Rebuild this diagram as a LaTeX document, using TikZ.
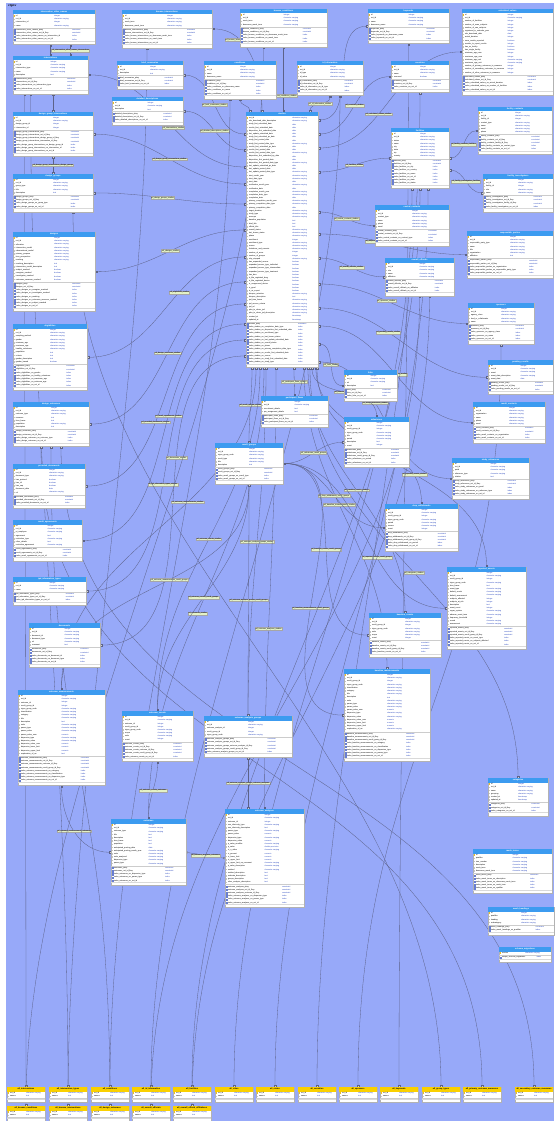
\documentclass[tikz,border=0pt]{standalone}
\usepackage{fontspec}
\setmainfont{Liberation Sans}
\usetikzlibrary{calc, arrows.meta, shadows}
\definecolor{grundblau}{RGB}{151,169,249}
\definecolor{kopfblau}{RGB}{60,155,240}
\definecolor{kopfgelb}{RGB}{250,208,0}
\definecolor{typblau}{RGB}{40,70,190}
\definecolor{liniengrau}{RGB}{92,98,136}
\definecolor{etikett}{RGB}{228,242,198}
\definecolor{schluessel}{RGB}{235,190,40}
\pgfdeclarelayer{grund}
\pgfdeclarelayer{linien}
\pgfdeclarelayer{kasten}
\pgfsetlayers{grund,linien,kasten,main}

\newcount\nsp
\newcount\nix
\def\typx{0.5}
% Tabelle: [Kopfstil] Name, x, y, Breite, Spalten, Indizes
\newcommand{\ertab}[7][blaukopf]{%
  \node[kopf, #1, minimum width=#5pt] (#2-k) at (#3,#4) {#2};
  \global\nsp=0\relax \global\nix=0\relax
  \foreach \sn/\st [count=\i] in {#6} {
    \global\nsp=\i\relax
    \pgfmathsetmacro\yy{#4+4.5+(\i-0.5)*3.2}
    \ifnum\i=1 \def\ic{schluessel}\else\def\ic{gray!45}\fi
    \fill[\ic] ({#3+0.8},{\yy-0.7}) rectangle ++(1.4,1.4);
    \node[zeile] (#2-s\i) at ({#3+2.8},\yy) {\sn};
    \node[typ] (#2-t\i) at ({#3+\typx*#5},\yy) {\st};
  }
  \if\relax\detokenize{#7}\relax\else
  \foreach \sn/\st [count=\i] in {#7} {
    \global\nix=\i\relax
    \pgfmathsetmacro\yy{#4+4.5+1+(\the\nsp+\i-0.5)*3.2}
    \draw[indexicon] ({#3+0.8},{\yy-0.7}) rectangle ++(1.4,1.4);
    \node[zeile] (#2-i\i) at ({#3+2.8},\yy) {\sn};
    \node[typ] (#2-j\i) at ({#3+0.72*#5},\yy) {\st};
  }\fi
  \pgfmathsetmacro\hh{9+(\the\nsp+\the\nix)*3.2}
  \begin{pgfonlayer}{kasten}
    \node[tab, minimum width=#5pt, minimum height=\hh pt] (#2) at (#3,#4) {};
  \end{pgfonlayer}
  \draw[gray!40, line width=0.2pt] ({#3},{#4+4.5+\the\nsp*3.2+0.5}) -- ++(#5,0);
  \draw[gray!30, line width=0.2pt] ({#3},{#4+\hh-3.5}) -- ++(#5,0);
}

\begin{document}
\catcode`\_=12
\begin{tikzpicture}[x=1pt, y=-1pt,
    kopf/.style={anchor=north west, inner sep=0pt, outer sep=0pt, minimum height=4.5pt,
      font=\bfseries\fontsize{2.1}{2.3}\selectfont},
    blaukopf/.style={fill=kopfblau, text=white},
    gelbkopf/.style={fill=kopfgelb, text=black},
    tab/.style={anchor=north west, draw=gray!60, line width=0.3pt, fill=white, inner sep=0pt, outer sep=0pt,
      drop shadow={shadow xshift=0.6pt, shadow yshift=-0.6pt, opacity=0.3}},
    zeile/.style={anchor=west, inner sep=0pt, font=\fontsize{1.9}{2.2}\selectfont},
    typ/.style={zeile, text=typblau},
    indexicon/.style={draw=typblau!70, line width=0.15pt},
    rel/.style={draw=liniengrau, line width=0.3pt,
      {Square[length=1.8pt,width=1.8pt,fill=gray!35]}-{Square[length=1.8pt,width=1.8pt,fill=gray!35]}},
    fklabel/.style={fill=etikett, draw=gray!70, line width=0.2pt, inner sep=0.5pt,
      font=\fontsize{1.9}{2.1}\selectfont}]
  \useasboundingbox (0,0) rectangle (554,1121);
  % Hintergrund
  \begin{pgfonlayer}{grund}
    \fill[white] (0,0) rectangle (554,1121);
    \fill[grundblau] (6,3) rectangle (554,1121);
  \end{pgfonlayer}
  \node[anchor=west, inner sep=0pt, font=\bfseries\itshape\fontsize{3}{3}\selectfont] (schema) at (8,6) {ctgov};

  % Tabellen oben
  \ertab{intervention_other_names}{13}{10}{82}{id/integer, nct_id/character varying, intervention_id/integer, name/character varying}
    {intervention_other_names_pkey/constraint, intervention_other_names_nct_id_fkey/constraint, index_intervention_other_names_on_intervention_id/index, index_intervention_other_names_on_nct_id/index}
  \ertab{browse_interventions}{122}{10}{90}{id/integer, nct_id/character varying, mesh_term/character varying, downcase_mesh_term/character varying}
    {browse_interventions_pkey/constraint, browse_interventions_nct_id_fkey/constraint, index_browse_interventions_on_downcase_mesh_term/index, index_browse_interventions_on_mesh_term/index, index_browse_interventions_on_nct_id/index}
  \ertab{browse_conditions}{240}{9}{87}{id/integer, nct_id/character varying, mesh_term/character varying, downcase_mesh_term/character varying}
    {browse_conditions_pkey/constraint, browse_conditions_nct_id_fkey/constraint, index_browse_conditions_on_downcase_mesh_term/index, index_browse_conditions_on_mesh_term/index, index_browse_conditions_on_nct_id/index}
  \ertab{keywords}{368}{9}{81}{id/integer, nct_id/character varying, name/character varying, downcase_name/character varying}
    {keywords_pkey/constraint, keywords_nct_id_fkey/constraint, index_keywords_on_downcase_name/index, index_keywords_on_nct_id/index}
  \ertab{calculated_values}{462}{9}{91}{id/integer, nct_id/character varying, number_of_facilities/integer, number_of_nsae_subjects/integer, number_of_sae_subjects/integer, registered_in_calendar_year/integer, nlm_download_date/date, actual_duration/integer, were_results_reported/boolean, months_to_report_results/integer, has_us_facility/boolean, has_single_facility/boolean, minimum_age_num/integer, maximum_age_num/integer, minimum_age_unit/character varying, maximum_age_unit/character varying, number_of_primary_outcomes_to_measure/integer, number_of_secondary_outcomes_to_measure/integer, number_of_other_outcomes_to_measure/integer}
    {calculated_values_pkey/constraint, calculated_values_nct_id_fkey/constraint, index_calculated_values_on_actual_duration/index, index_calculated_values_on_number_of_facilities/index, index_calculated_values_on_nct_id/index}
  \ertab{interventions}{13}{56}{75}{id/integer, nct_id/character varying, intervention_type/character varying, name/character varying, description/text}
    {interventions_pkey/constraint, interventions_nct_id_fkey/constraint, index_interventions_on_intervention_type/index, index_interventions_on_nct_id/index}
  \ertab{brief_summaries}{117}{61}{66}{id/integer, nct_id/character varying, description/text}
    {brief_summaries_pkey/constraint, brief_summaries_nct_id_fkey/constraint, index_brief_summaries_on_nct_id/index}
  \ertab{conditions}{204}{61}{72}{id/integer, nct_id/character varying, name/character varying, downcase_name/character varying}
    {conditions_pkey/constraint, conditions_nct_id_fkey/constraint, index_conditions_on_downcase_name/index, index_conditions_on_name/index, index_conditions_on_nct_id/index}
  \ertab{id_information}{297}{61}{66}{id/integer, nct_id/character varying, id_type/character varying, id_value/character varying}
    {id_information_pkey/constraint, id_information_nct_id_fkey/constraint, index_id_information_on_id_type/index, index_id_information_on_nct_id/index}
  \ertab{countries}{391}{61}{58}{id/integer, nct_id/character varying, name/character varying, removed/boolean}
    {countries_pkey/constraint, countries_nct_id_fkey/constraint, index_countries_on_nct_id/index}
  \ertab{detailed_descriptions}{112}{97}{71}{id/integer, nct_id/character varying, description/text}
    {detailed_descriptions_pkey/constraint, detailed_descriptions_nct_id_fkey/constraint, index_detailed_descriptions_on_nct_id/index}
  \ertab{design_group_interventions}{13}{112}{80}{id/integer, nct_id/character varying, design_group_id/integer, intervention_id/integer}
    {design_group_interventions_pkey/constraint, design_group_interventions_nct_id_fkey/constraint, design_group_interventions_design_group_id_fkey/constraint, design_group_interventions_intervention_id_fkey/constraint, index_design_group_interventions_on_design_group_id/index, index_design_group_interventions_on_intervention_id/index, index_design_group_interventions_on_nct_id/index}
  \ertab{facility_contacts}{478}{107}{74}{id/integer, nct_id/character varying, facility_id/integer, contact_type/character varying, name/character varying, email/character varying, phone/character varying}
    {facility_contacts_pkey/constraint, facility_contacts_nct_id_fkey/constraint, facility_contacts_facility_id_fkey/constraint, index_facility_contacts_on_contact_type/index, index_facility_contacts_on_nct_id/index}
  \ertab{facilities}{391}{128}{58}{id/integer, nct_id/character varying, status/character varying, name/character varying, city/character varying, state/character varying, zip/character varying, country/character varying}
    {facilities_pkey/constraint, facilities_nct_id_fkey/constraint, index_facilities_on_city/index, index_facilities_on_country/index, index_facilities_on_name/index, index_facilities_on_nct_id/index, index_facilities_on_state/index, index_facilities_on_status/index}

  % Haupttabelle
  \def\typx{0.64}
  \ertab{studies}{246}{112}{72}{nct_id/character varying, nlm_download_date_description/character varying, study_first_submitted_date/date, results_first_submitted_date/date, disposition_first_submitted_date/date, last_update_submitted_date/date, study_first_submitted_qc_date/date, study_first_posted_date/date, study_first_posted_date_type/character varying, results_first_submitted_qc_date/date, results_first_posted_date/date, results_first_posted_date_type/character varying, disposition_first_submitted_qc_date/date, disposition_first_posted_date/date, disposition_first_posted_date_type/character varying, last_update_submitted_qc_date/date, last_update_posted_date/date, last_update_posted_date_type/character varying, start_month_year/character varying, start_date_type/character varying, start_date/date, verification_month_year/character varying, verification_date/date, completion_month_year/character varying, completion_date_type/character varying, completion_date/date, primary_completion_month_year/character varying, primary_completion_date_type/character varying, primary_completion_date/date, target_duration/character varying, study_type/character varying, acronym/character varying, baseline_population/text, brief_title/text, official_title/text, overall_status/character varying, last_known_status/character varying, phase/character varying, enrollment/integer, enrollment_type/character varying, source/character varying, limitations_and_caveats/character varying, number_of_arms/integer, number_of_groups/integer, why_stopped/character varying, has_expanded_access/boolean, expanded_access_type_individual/boolean, expanded_access_type_intermediate/boolean, expanded_access_type_treatment/boolean, has_dmc/boolean, is_fda_regulated_drug/boolean, is_fda_regulated_device/boolean, is_unapproved_device/boolean, is_ppsd/boolean, is_us_export/boolean, biospec_retention/character varying, biospec_description/text, ipd_time_frame/character varying, ipd_access_criteria/character varying, ipd_url/character varying, plan_to_share_ipd/character varying, plan_to_share_ipd_description/character varying, created_at/timestamp, updated_at/timestamp}
    {studies_pkey/constraint, index_studies_on_completion_date_type/index, index_studies_on_disposition_first_submitted_date/index, index_studies_on_enrollment_type/index, index_studies_on_last_known_status/index, index_studies_on_last_update_submitted_date/index, index_studies_on_overall_status/index, index_studies_on_phase/index, index_studies_on_primary_completion_date_type/index, index_studies_on_results_first_submitted_date/index, index_studies_on_source/index, index_studies_on_study_first_submitted_date/index, index_studies_on_study_type/index}
  \def\typx{0.5}

  % Tabellen links
  \ertab{design_groups}{13}{174}{80}{id/integer, nct_id/character varying, group_type/character varying, title/character varying, description/text}
    {design_groups_pkey/constraint, design_groups_nct_id_fkey/constraint, index_design_groups_on_group_type/index, index_design_groups_on_nct_id/index}
  \ertab{designs}{13}{232}{82}{id/integer, nct_id/character varying, allocation/character varying, intervention_model/character varying, observational_model/character varying, primary_purpose/character varying, time_perspective/character varying, masking/character varying, masking_description/text, intervention_model_description/text, subject_masked/boolean, caregiver_masked/boolean, investigator_masked/boolean, outcomes_assessor_masked/boolean}
    {designs_pkey/constraint, designs_nct_id_fkey/constraint, index_designs_on_caregiver_masked/index, index_designs_on_investigator_masked/index, index_designs_on_masking/index, index_designs_on_outcomes_assessor_masked/index, index_designs_on_subject_masked/index, index_designs_on_nct_id/index}
  \ertab{eligibilities}{13}{324}{74}{id/integer, nct_id/character varying, sampling_method/character varying, gender/character varying, minimum_age/character varying, maximum_age/character varying, healthy_volunteers/character varying, population/text, criteria/text, gender_description/text, gender_based/boolean}
    {eligibilities_pkey/constraint, eligibilities_nct_id_fkey/constraint, index_eligibilities_on_gender/index, index_eligibilities_on_healthy_volunteers/index, index_eligibilities_on_maximum_age/index, index_eligibilities_on_minimum_age/index, index_eligibilities_on_nct_id/index}
  \ertab{design_outcomes}{13}{402}{76}{id/integer, nct_id/character varying, outcome_type/character varying, measure/text, time_frame/text, population/character varying, description/text}
    {design_outcomes_pkey/constraint, design_outcomes_nct_id_fkey/constraint, index_design_outcomes_on_outcome_type/index, index_design_outcomes_on_nct_id/index}
  \ertab{provided_documents}{13}{464}{72}{id/integer, nct_id/character varying, document_type/character varying, has_protocol/boolean, has_icf/boolean, has_sap/boolean, document_date/date, url/character varying}
    {provided_documents_pkey/constraint, provided_documents_nct_id_fkey/constraint, index_provided_documents_on_nct_id/index}
  \ertab{result_agreements}{13}{520}{69}{id/integer, nct_id/character varying, pi_employee/character varying, agreement/text, restriction_type/character varying, other_details/text, restrictive_agreement/character varying}
    {result_agreements_pkey/constraint, result_agreements_nct_id_fkey/constraint, index_result_agreements_on_nct_id/index}
  \ertab{ipd_information_types}{13}{577}{73}{id/integer, nct_id/character varying, name/character varying}
    {ipd_information_types_pkey/constraint, ipd_information_types_nct_id_fkey/constraint, index_ipd_information_types_on_nct_id/index}
  \ertab{documents}{29}{623}{71}{id/integer, nct_id/character varying, document_id/character varying, document_type/character varying, url/character varying, comment/text}
    {documents_pkey/constraint, documents_nct_id_fkey/constraint, index_documents_on_document_id/index, index_documents_on_document_type/index, index_documents_on_nct_id/index}

  % Tabellen rechts
  \ertab{facility_investigators}{483}{174}{70}{id/integer, nct_id/character varying, facility_id/integer, role/character varying, name/character varying}
    {facility_investigators_pkey/constraint, facility_investigators_nct_id_fkey/constraint, facility_investigators_facility_id_fkey/constraint, index_facility_investigators_on_nct_id/index}
  \ertab{central_contacts}{375}{205}{74}{id/integer, nct_id/character varying, contact_type/character varying, name/character varying, phone/character varying, email/character varying}
    {central_contacts_pkey/constraint, central_contacts_nct_id_fkey/constraint, index_central_contacts_on_contact_type/index, index_central_contacts_on_nct_id/index}
  \ertab{responsible_parties}{467}{231}{86}{id/integer, nct_id/character varying, responsible_party_type/character varying, name/character varying, title/character varying, organization/character varying, affiliation/text}
    {responsible_parties_pkey/constraint, responsible_parties_nct_id_fkey/constraint, index_responsible_parties_on_organization/index, index_responsible_parties_on_responsible_party_type/index, index_responsible_parties_on_nct_id/index}
  \ertab{overall_officials}{385}{258}{69}{id/integer, nct_id/character varying, role/character varying, name/character varying, affiliation/character varying}
    {overall_officials_pkey/constraint, overall_officials_nct_id_fkey/constraint, index_overall_officials_on_affiliation/index, index_overall_officials_on_nct_id/index}
  \ertab{sponsors}{468}{303}{66}{id/integer, nct_id/character varying, agency_class/character varying, lead_or_collaborator/character varying, name/character varying}
    {sponsors_pkey/constraint, sponsors_nct_id_fkey/constraint, index_sponsors_on_agency_class/index, index_sponsors_on_name/index, index_sponsors_on_nct_id/index}
  \ertab{pending_results}{488}{360}{65}{id/integer, nct_id/character varying, event/character varying, event_date_description/character varying, event_date/date}
    {pending_results_pkey/constraint, pending_results_nct_id_fkey/constraint, index_pending_results_on_nct_id/index}
  \ertab{links}{344}{370}{53}{id/integer, nct_id/character varying, url/character varying, description/text}
    {links_pkey/constraint, links_nct_id_fkey/constraint, index_links_on_nct_id/index}
  \ertab{result_contacts}{473}{402}{72}{id/integer, nct_id/character varying, organization/character varying, name/character varying, phone/character varying, email/character varying}
    {result_contacts_pkey/constraint, result_contacts_nct_id_fkey/constraint, index_result_contacts_on_organization/index, index_result_contacts_on_nct_id/index}
  \ertab{study_references}{452}{458}{77}{id/integer, nct_id/character varying, pmid/character varying, reference_type/character varying, citation/text}
    {study_references_pkey/constraint, study_references_nct_id_fkey/constraint, index_study_references_on_pmid/index, index_study_references_on_reference_type/index, index_study_references_on_nct_id/index}

  % Ergebnistabellen
  \ertab{participant_flows}{261}{396}{67}{id/integer, nct_id/character varying, recruitment_details/text, pre_assignment_details/text}
    {participant_flows_pkey/constraint, participant_flows_nct_id_fkey/constraint, index_participant_flows_on_nct_id/index}
  \ertab{milestones}{344}{417}{65}{id/integer, nct_id/character varying, result_group_id/integer, ctgov_group_code/character varying, title/character varying, period/character varying, description/text, count/integer}
    {milestones_pkey/constraint, milestones_nct_id_fkey/constraint, milestones_result_group_id_fkey/constraint, index_milestones_on_period/index, index_milestones_on_nct_id/index}
  \ertab{result_groups}{215}{443}{68}{id/integer, nct_id/character varying, ctgov_group_code/character varying, result_type/character varying, title/character varying, description/text}
    {result_groups_pkey/constraint, result_groups_nct_id_fkey/constraint, index_result_groups_on_result_type/index, index_result_groups_on_nct_id/index}
  \ertab{drop_withdrawals}{385}{504}{73}{id/integer, nct_id/character varying, result_group_id/integer, ctgov_group_code/character varying, period/character varying, reason/character varying, count/integer}
    {drop_withdrawals_pkey/constraint, drop_withdrawals_nct_id_fkey/constraint, drop_withdrawals_result_group_id_fkey/constraint, index_drop_withdrawals_on_period/index, index_drop_withdrawals_on_nct_id/index}
  \ertab{reported_events}{447}{567}{79}{id/integer, nct_id/character varying, result_group_id/integer, ctgov_group_code/character varying, time_frame/text, event_type/character varying, default_vocab/character varying, default_assessment/character varying, subjects_affected/integer, subjects_at_risk/integer, description/text, event_count/integer, organ_system/character varying, adverse_event_term/character varying, frequency_threshold/integer, vocab/character varying, assessment/character varying}
    {reported_events_pkey/constraint, reported_events_nct_id_fkey/constraint, reported_events_result_group_id_fkey/constraint, index_reported_events_on_event_type/index, index_reported_events_on_subjects_affected/index, index_reported_events_on_nct_id/index}
  \ertab{baseline_counts}{369}{613}{72}{id/integer, nct_id/character varying, result_group_id/integer, ctgov_group_code/character varying, units/character varying, scope/character varying, count/integer}
    {baseline_counts_pkey/constraint, baseline_counts_nct_id_fkey/constraint, baseline_counts_result_group_id_fkey/constraint, index_baseline_counts_on_nct_id/index}
  \ertab{baseline_measurements}{344}{669}{86}{id/integer, nct_id/character varying, result_group_id/integer, ctgov_group_code/character varying, classification/character varying, category/character varying, title/character varying, description/text, units/character varying, param_type/character varying, param_value/character varying, param_value_num/numeric, dispersion_type/character varying, dispersion_value/character varying, dispersion_value_num/numeric, dispersion_lower_limit/numeric, dispersion_upper_limit/numeric, explanation_of_na/character varying}
    {baseline_measurements_pkey/constraint, baseline_measurements_nct_id_fkey/constraint, baseline_measurements_result_group_id_fkey/constraint, index_baseline_measurements_on_category/index, index_baseline_measurements_on_classification/index, index_baseline_measurements_on_dispersion_type/index, index_baseline_measurements_on_param_type/index, index_baseline_measurements_on_nct_id/index}
  \ertab{outcome_measurements}{18}{690}{87}{id/integer, nct_id/character varying, outcome_id/integer, result_group_id/integer, ctgov_group_code/character varying, classification/character varying, category/character varying, title/character varying, description/text, units/character varying, param_type/character varying, param_value/character varying, param_value_num/numeric, dispersion_type/character varying, dispersion_value/character varying, dispersion_value_num/numeric, dispersion_lower_limit/numeric, dispersion_upper_limit/numeric, explanation_of_na/text}
    {outcome_measurements_pkey/constraint, outcome_measurements_nct_id_fkey/constraint, outcome_measurements_outcome_id_fkey/constraint, outcome_measurements_result_group_id_fkey/constraint, index_outcome_measurements_on_category/index, index_outcome_measurements_on_classification/index, index_outcome_measurements_on_dispersion_type/index, index_outcome_measurements_on_nct_id/index}
  \ertab{outcome_counts}{122}{711}{71}{id/integer, nct_id/character varying, outcome_id/integer, result_group_id/integer, ctgov_group_code/character varying, scope/character varying, units/character varying, count/integer}
    {outcome_counts_pkey/constraint, outcome_counts_nct_id_fkey/constraint, outcome_counts_outcome_id_fkey/constraint, outcome_counts_result_group_id_fkey/constraint, index_outcome_counts_on_nct_id/index}
  \ertab{outcome_analysis_groups}{204}{716}{88}{id/integer, nct_id/character varying, outcome_analysis_id/integer, result_group_id/integer, ctgov_group_code/character varying}
    {outcome_analysis_groups_pkey/constraint, outcome_analysis_groups_nct_id_fkey/constraint, outcome_analysis_groups_outcome_analysis_id_fkey/constraint, outcome_analysis_groups_result_group_id_fkey/constraint, index_outcome_analysis_groups_on_nct_id/index}
  \ertab{outcomes}{111}{819}{75}{id/integer, nct_id/character varying, outcome_type/character varying, title/text, description/text, time_frame/text, population/text, anticipated_posting_date/date, anticipated_posting_month_year/character varying, units/character varying, units_analyzed/character varying, dispersion_type/character varying, param_type/character varying}
    {outcomes_pkey/constraint, outcomes_nct_id_fkey/constraint, index_outcomes_on_dispersion_type/index, index_outcomes_on_param_type/index, index_outcomes_on_nct_id/index}
  \ertab{outcome_analyses}{225}{809}{79}{id/integer, nct_id/character varying, outcome_id/integer, non_inferiority_type/character varying, non_inferiority_description/text, param_type/character varying, param_value/numeric, dispersion_type/character varying, dispersion_value/numeric, p_value_modifier/character varying, p_value/double precision, ci_n_sides/character varying, ci_percent/numeric, ci_lower_limit/numeric, ci_upper_limit/numeric, ci_upper_limit_na_comment/character varying, p_value_description/character varying, method/character varying, method_description/text, estimate_description/text, groups_description/text, other_analysis_description/text}
    {outcome_analyses_pkey/constraint, outcome_analyses_nct_id_fkey/constraint, outcome_analyses_outcome_id_fkey/constraint, index_outcome_analyses_on_dispersion_type/index, index_outcome_analyses_on_param_type/index, index_outcome_analyses_on_nct_id/index}

  % Tabellen unten rechts
  \ertab{categories}{488}{778}{60}{id/integer, nct_id/character varying, name/character varying, grouping/character varying, created_at/timestamp, updated_at/timestamp}
    {categories_pkey/constraint, categories_nct_id_fkey/constraint, index_categories_on_nct_id/index}
  \ertab{mesh_terms}{473}{849}{79}{id/integer, qualifier/character varying, tree_number/character varying, description/character varying, mesh_term/character varying, downcase_mesh_term/character varying}
    {mesh_terms_pkey/constraint, index_mesh_terms_on_description/index, index_mesh_terms_on_downcase_mesh_term/index, index_mesh_terms_on_mesh_term/index, index_mesh_terms_on_qualifier/index}
  \ertab{mesh_headings}{488}{907}{66}{id/integer, qualifier/character varying, heading/character varying, subcategory/character varying}
    {mesh_headings_pkey/constraint, index_mesh_headings_on_qualifier/index}
  \ertab{schema_migrations}{499}{947}{52}{version/character varying}
    {unique_schema_migrations/index}

  % gelbe Tabellen
  \foreach \tb/\xx in {all_interventions/7, all_intervention_types/49, all_conditions/91, all_id_information/132, all_facilities/173, all_cities/215, all_states/256, all_countries/298, all_sponsors/339, all_keywords/380, all_group_types/422, all_primary_outcome_measures/463, all_secondary_outcome_measures/515}
    \ertab[gelbkopf]{\tb}{\xx}{1087}{38}{nct_id/character varying, names/text}{};
  \foreach \tb/\xx in {all_browse_conditions/7, all_browse_interventions/49, all_design_outcomes/91, all_overall_officials/132, all_overall_official_affiliations/173}
    \ertab[gelbkopf]{\tb}{\xx}{1106}{38}{nct_id/character varying, names/text}{};

  % Verbindungen
  \begin{pgfonlayer}{linien}
    \foreach \tb/\off/\ps in {brief_summaries/22/0.5, detailed_descriptions/38/0.5, interventions/55/0.55, design_group_interventions/72/0.5, design_groups/92/0.45, designs/118/0.5, eligibilities/145/0.6, design_outcomes/170/0.5, provided_documents/192/0.4, result_agreements/212/0.55, ipd_information_types/228/0.45, documents/244/0.6}
      \draw[rel] (\tb.east) to[out=0,in=180] node[fklabel,pos=\ps] (l-\tb) {ref_\tb_studies} ($(studies.north west)+(0,\off)$);
    \foreach \tb/\off/\ps in {keywords/8/0.5, countries/22/0.5, calculated_values/36/0.6, facilities/60/0.5, central_contacts/100/0.5, responsible_parties/122/0.6, overall_officials/146/0.5, sponsors/172/0.55, pending_results/196/0.6, result_contacts/214/0.5, links/232/0.5, study_references/250/0.6}
      \draw[rel] (\tb.west) to[out=180,in=0] node[fklabel,pos=\ps] (l-\tb) {ref_\tb_studies} ($(studies.north east)+(0,\off)$);
    \draw[rel] (browse_interventions.east) to[out=0,in=90] node[fklabel,pos=0.3] (l-browse_interventions) {ref_browse_interventions_studies} ($(studies.north west)+(16,0)$);
    \draw[rel] (conditions.south) to[out=-90,in=90] ($(studies.north west)+(4,0)$);
    \draw[rel] (browse_conditions.south) -- node[fklabel,pos=0.75] (l-browse_conditions) {ref_browse_conditions_studies} (browse_conditions.south |- studies.north);
    \draw[rel] (id_information.south) to[out=-90,in=90] node[fklabel,pos=0.5] (l-id_information) {ref_id_information_studies} ($(studies.north east)+(-8,0)$);
    \draw[rel] (interventions.north) -- (interventions.north |- intervention_other_names.south);
    \draw[rel] ($(interventions.north)+(20,0)$) -- node[fklabel] (l-intervention_other_names) {ref_intervention_other_names_interventions} ($(interventions.north |- intervention_other_names.south)+(20,0)$);
    \draw[rel] (design_group_interventions.north) -- (design_group_interventions.north |- interventions.south);
    \draw[rel] (design_group_interventions.south) -- node[fklabel] (l-dgi) {ref_design_group_interventions_design_groups} (design_group_interventions.south |- design_groups.north);
    \draw[rel] (facility_contacts.west) to[out=180,in=0] node[fklabel] (l-facility_contacts) {ref_facility_contacts_facilities} (facilities.east);
    \draw[rel] (facility_investigators.west) to[out=180,in=0] node[fklabel] (l-facility_investigators) {ref_facility_investigators_facilities} ($(facilities.east)+(0,12)$);
    % nach unten
    \foreach \tb/\off/\ps in {result_groups/6/0.5, participant_flows/48/0.5, milestones/66/0.5, drop_withdrawals/70/0.5, reported_events/71/0.45, baseline_counts/62/0.5, baseline_measurements/58/0.55, outcome_counts/14/0.5, outcome_measurements/10/0.6, outcome_analysis_groups/20/0.5, outcome_analyses/30/0.4, outcomes/18/0.45, categories/64/0.5}
      \draw[rel] (\tb.north) to[out=90,in=-90] node[fklabel,pos=\ps] (l-\tb) {ref_\tb_studies} ($(studies.south west)+(\off,0)$);
    \foreach \tb/\ps in {milestones/0.5, drop_withdrawals/0.5, reported_events/0.6, baseline_counts/0.5, baseline_measurements/0.55}
      \draw[rel] (result_groups.east) to[out=0,in=180] node[fklabel,pos=\ps] (m-\tb) {ref_\tb_result_groups} (\tb.west);
    \foreach \tb/\ps in {outcome_counts/0.5, outcome_measurements/0.45, outcome_analysis_groups/0.5}
      \draw[rel] (result_groups.south) to[out=-90,in=90] node[fklabel,pos=\ps] (m-\tb) {ref_\tb_result_groups} (\tb.north);
    \draw[rel] (outcome_counts.south) to[out=-90,in=90] node[fklabel] (n-outcome_counts) {ref_outcome_counts_outcomes} (outcomes.north);
    \draw[rel] (outcome_measurements.south) to[out=-90,in=180] node[fklabel] (n-outcome_measurements) {ref_outcome_measurements_outcomes} (outcomes.west);
    \draw[rel] (outcomes.east) -- node[fklabel] (n-outcome_analyses) {ref_outcome_analyses_outcomes} (outcome_analyses.west);
    \draw[rel] (outcome_analysis_groups.south) -- node[fklabel] (n-oag) {ref_outcome_analysis_groups_outcome_analyses} (outcome_analysis_groups.south |- outcome_analyses.north);
    % gelbe Tabellen nach oben
    \foreach \tb/\ziel/\off in {all_interventions/interventions/-26, all_intervention_types/interventions/-20, all_conditions/conditions/-10, all_id_information/id_information/10, all_facilities/facilities/0, all_cities/facilities/-8, all_states/facilities/8, all_countries/countries/0, all_sponsors/sponsors/0, all_keywords/keywords/0, all_group_types/design_groups/20, all_primary_outcome_measures/design_outcomes/-10, all_secondary_outcome_measures/design_outcomes/10, all_browse_conditions/browse_conditions/-20, all_browse_interventions/browse_interventions/-20, all_design_outcomes/design_outcomes/0, all_overall_officials/overall_officials/0, all_overall_official_affiliations/overall_officials/10}
      \draw[rel] (\tb.north) .. controls +(0,-330) and +(0,330) .. ($(\ziel.south)+(\off,0)$);
  \end{pgfonlayer}
\end{tikzpicture}
\end{document}
